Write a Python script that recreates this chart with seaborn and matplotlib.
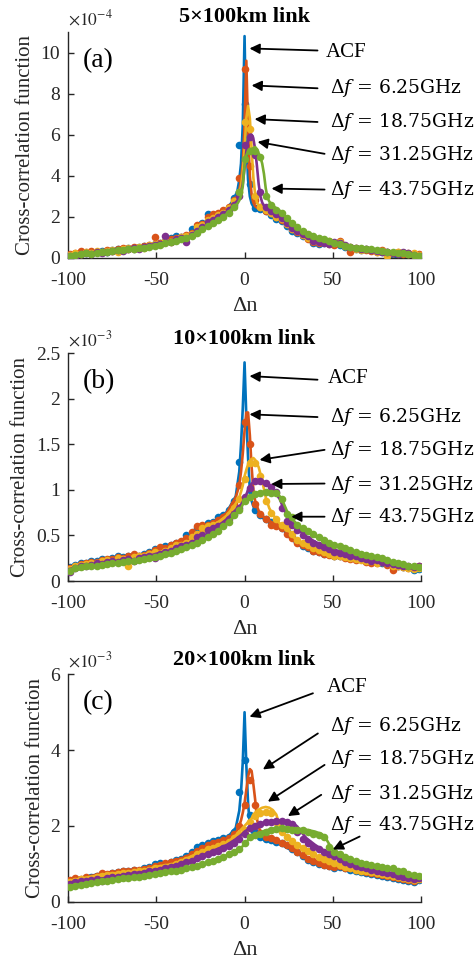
import numpy as np
import matplotlib
matplotlib.use("Agg")
import matplotlib.pyplot as plt
import seaborn as sns

# ---------------- data ----------------
series_labels = ["ACF", r"$\Delta f$ = 6.25GHz", r"$\Delta f$ = 18.75GHz",
                 r"$\Delta f$ = 31.25GHz", r"$\Delta f$ = 43.75GHz"]
colors = ["#0072BD", "#D95319", "#EDB120", "#7E2F8E", "#77AC30"]
panel_titles = ["5\u00d7100km link", "10\u00d7100km link", "20\u00d7100km link"]
panel_tags = ["(a)", "(b)", "(c)"]
exponents = [-4, -3, -3]
yticks_a = [0, 2, 4, 6, 8, 10]
yticks_b = [0, 0.5, 1, 1.5, 2, 2.5]
yticks_c = [0, 2, 4, 6]
ylabels_a = ["0", "2", "4", "6", "8", "10"]
ylabels_b = ["0", "0.5", "1", "1.5", "2", "2.5"]
ylabels_c = ["0", "2", "4", "6"]
xticks = [-100, -50, 0, 50, 100]
xticklabels = ["-100", "-50", "0", "50", "100"]

x_dots = list(range(-99, 100, 3))

# ---- panel (a), values in units of 1e-4 ----
xa_line = [-100, -80, -60, -50, -40, -30, -25, -20, -15, -10, -6, -4, -3, -2, -1, 0, 1, 2, 3, 4, 5, 6,
           7, 8, 9, 10, 11, 12, 13, 14, 16, 18, 20, 25, 30, 40, 50, 60, 70, 80, 90, 100]
a_line_0 = [0.12, 0.35, 0.55, 0.7, 0.95, 1.15, 1.45, 1.85, 2.1, 2.4, 2.85, 3.3, 3.8, 4.6, 6.5, 10.8, 5.8, 3.8, 3.0, 2.65, 2.5, 2.45,
            2.42, 2.4, 2.38, 2.35, 2.33, 2.3, 2.27, 2.22, 2.12, 2.0, 1.9, 1.6, 1.25, 0.8, 0.7, 0.5, 0.4, 0.3, 0.22, 0.12]
a_line_1 = [0.12, 0.35, 0.55, 0.7, 0.95, 1.12, 1.4, 1.8, 2.05, 2.35, 2.75, 3.05, 3.3, 3.8, 4.6, 6.5, 9.6, 6.2, 4.0, 3.1, 2.7, 2.52,
            2.45, 2.42, 2.4, 2.37, 2.34, 2.31, 2.28, 2.24, 2.14, 2.02, 1.92, 1.62, 1.27, 0.82, 0.7, 0.5, 0.4, 0.3, 0.22, 0.12]
a_line_2 = [0.12, 0.34, 0.54, 0.68, 0.93, 1.1, 1.35, 1.75, 2.0, 2.3, 2.7, 2.95, 3.1, 3.5, 4.2, 5.3, 6.8, 7.4, 6.8, 5.3, 3.9, 3.1,
            2.7, 2.55, 2.47, 2.42, 2.38, 2.35, 2.31, 2.27, 2.17, 2.05, 1.95, 1.65, 1.3, 0.84, 0.72, 0.52, 0.41, 0.31, 0.23, 0.13]
a_line_3 = [0.12, 0.33, 0.52, 0.66, 0.9, 1.05, 1.3, 1.7, 1.95, 2.25, 2.6, 2.8, 3.0, 3.2, 3.6, 4.4, 5.2, 5.7, 6.0, 6.0, 5.8, 5.3,
            4.5, 3.6, 3.0, 2.7, 2.55, 2.47, 2.42, 2.37, 2.25, 2.12, 2.0, 1.7, 1.35, 0.88, 0.74, 0.53, 0.42, 0.32, 0.23, 0.13]
a_line_4 = [0.1, 0.3, 0.5, 0.62, 0.85, 1.0, 1.25, 1.6, 1.85, 2.15, 2.5, 2.65, 2.8, 3.0, 3.5, 4.5, 5.0, 5.2, 5.3, 5.3, 5.35, 5.4,
            5.3, 5.1, 4.9, 4.6, 4.1, 3.4, 2.95, 2.75, 2.55, 2.42, 2.3, 1.85, 1.45, 0.95, 0.78, 0.55, 0.43, 0.33, 0.24, 0.13]

a_dots_0 = [0.15, 0.2, 0.18, 0.25, 0.3, 0.28, 0.35, 0.3, 0.4, 0.45, 0.42, 0.5, 0.45, 0.55, 0.6, 0.58, 0.7, 0.72, 0.85, 0.95,
            1.05, 1.0, 1.05, 1.4, 1.45, 1.7, 2.15, 2.0, 2.1, 2.3, 2.45, 2.9, 5.5, 7.5, 3.6, 2.45, 2.4, 2.3, 2.1, 1.9,
            1.8, 1.55, 1.3, 1.2, 1.05, 0.95, 0.75, 0.7, 0.72, 0.75, 0.7, 0.65, 0.55, 0.45, 0.45, 0.4, 0.42, 0.38, 0.35, 0.3,
            0.28, 0.05, 0.2, 0.15, 0.12, 0.1, 0.12]
a_dots_1 = [0.2, 0.25, 0.35, 0.3, 0.35, 0.3, 0.3, 0.4, 0.35, 0.45, 0.5, 0.45, 0.55, 0.5, 0.6, 0.65, 1.0, 0.75, 0.8, 0.9,
            0.95, 1.0, 1.1, 1.2, 1.6, 1.65, 2.0, 2.15, 2.2, 2.35, 2.5, 2.8, 3.9, 9.2, 4.5, 2.8, 2.5, 2.3, 2.2, 2.0,
            1.85, 1.65, 1.4, 1.25, 1.1, 0.9, 0.8, 0.75, 0.8, 0.7, 0.65, 0.85, 0.6, 0.3, 0.5, 0.45, 0.4, 0.35, 0.3, 0.38,
            0.3, 0.25, 0.3, 0.2, 0.25, 0.15, 0.2]
a_dots_2 = [0.15, 0.25, 0.2, 0.3, 0.25, 0.35, 0.3, 0.35, 0.4, 0.3, 0.45, 0.5, 0.45, 0.55, 0.5, 0.65, 0.7, 0.7, 0.85, 0.8,
            0.9, 1.0, 1.05, 1.15, 1.5, 1.6, 1.85, 1.95, 2.1, 2.2, 2.45, 2.75, 3.2, 6.6, 6.3, 3.0, 2.5, 2.35, 2.2, 2.0,
            1.9, 1.65, 1.4, 1.3, 1.1, 0.95, 0.85, 0.8, 0.78, 0.85, 0.75, 0.8, 0.6, 0.55, 0.45, 0.4, 0.45, 0.4, 0.3, 0.35,
            0.1, 0.25, 0.3, 0.25, 0.2, 0.25, 0.15]
a_dots_3 = [0.1, 0.0, 0.2, 0.25, 0.2, 0.3, 0.25, 0.3, 0.35, 0.4, 0.35, 0.45, 0.5, 0.45, 0.55, 0.6, 0.65, 0.7, 1.05, 0.8,
            0.9, 0.95, 0.8, 1.1, 1.3, 1.5, 1.75, 1.85, 2.0, 2.15, 2.35, 2.6, 3.0, 5.5, 5.9, 5.0, 3.2, 2.5, 2.3, 2.15,
            1.95, 1.7, 1.45, 1.3, 1.15, 1.05, 0.85, 0.8, 0.75, 0.7, 0.8, 0.75, 0.65, 0.55, 0.5, 0.45, 0.42, 0.4, 0.35, 0.3,
            0.3, 0.25, 0.2, 0.3, 0.25, 0.15, 0.1]
a_dots_4 = [0.1, 0.15, 0.2, 0.25, 0.2, 0.25, 0.3, 0.3, 0.35, 0.4, 0.4, 0.45, 0.45, 0.5, 0.5, 0.55, 0.6, 0.65, 0.75, 0.8,
            0.85, 0.9, 0.95, 1.05, 1.2, 1.4, 1.55, 1.7, 1.85, 2.0, 2.2, 2.5, 3.2, 4.8, 5.2, 5.2, 4.9, 3.0, 2.6, 2.35,
            2.2, 1.95, 1.7, 1.5, 1.3, 1.15, 1.05, 0.95, 0.9, 0.82, 0.75, 0.7, 0.6, 0.55, 0.5, 0.48, 0.45, 0.42, 0.4, 0.35,
            0.3, 0.28, 0.25, 0.22, 0.2, 0.15, 0.12]

# ---- panel (b), values in units of 1e-3 ----
xb_line = [-100, -80, -60, -50, -40, -30, -20, -10, -5, -3, -2, -1, 0, 1, 2, 3, 4, 5, 6, 8, 10, 12, 14, 16, 18, 20,
           22, 24, 26, 28, 30, 35, 40, 50, 60, 70, 80, 90, 100]
b_line_0 = [0.14, 0.2, 0.25, 0.33, 0.38, 0.48, 0.6, 0.76, 0.93, 1.2, 1.5, 1.9, 2.4, 1.8, 1.35, 1.0, 0.88, 0.82, 0.78, 0.74,
            0.7, 0.67, 0.65, 0.63, 0.61, 0.59, 0.57, 0.55, 0.5, 0.44, 0.4, 0.36, 0.33, 0.29, 0.25, 0.23, 0.2, 0.17, 0.14]
b_line_1 = [0.14, 0.2, 0.25, 0.33, 0.38, 0.48, 0.6, 0.75, 0.92, 1.05, 1.2, 1.4, 1.65, 1.85, 1.85, 1.6, 1.25, 1.0, 0.88, 0.77,
            0.72, 0.68, 0.66, 0.64, 0.62, 0.6, 0.58, 0.56, 0.51, 0.46, 0.41, 0.37, 0.34, 0.3, 0.26, 0.23, 0.2, 0.17, 0.14]
b_line_2 = [0.13, 0.19, 0.24, 0.31, 0.36, 0.45, 0.57, 0.72, 0.85, 0.92, 0.98, 1.05, 1.15, 1.22, 1.28, 1.32, 1.34, 1.35, 1.33,
            1.25, 1.1, 0.92, 0.8, 0.73, 0.68, 0.63, 0.6, 0.57, 0.53, 0.48, 0.43, 0.38, 0.35, 0.3, 0.26, 0.23, 0.2, 0.17, 0.14]
b_line_3 = [0.13, 0.19, 0.24, 0.3, 0.34, 0.42, 0.53, 0.68, 0.78, 0.82, 0.84, 0.87, 0.9, 0.95, 1.0, 1.03, 1.07, 1.08, 1.1,
            1.11, 1.1, 1.08, 1.04, 1.0, 0.95, 0.9, 0.8, 0.72, 0.66, 0.62, 0.57, 0.49, 0.43, 0.35, 0.29, 0.25, 0.21, 0.18, 0.15]
b_line_4 = [0.11, 0.17, 0.22, 0.24, 0.3, 0.38, 0.48, 0.63, 0.73, 0.77, 0.8, 0.84, 0.87, 0.89, 0.91, 0.93, 0.94, 0.95, 0.96,
            0.97, 0.98, 0.98, 0.98, 0.97, 0.96, 0.93, 0.86, 0.77, 0.71, 0.66, 0.62, 0.55, 0.49, 0.4, 0.34, 0.28, 0.23, 0.19, 0.15]

b_dots_0 = [0.15, 0.18, 0.2, 0.2, 0.22, 0.22, 0.24, 0.22, 0.25, 0.27, 0.26, 0.28, 0.25, 0.27, 0.3, 0.32, 0.35, 0.35, 0.38, 0.4,
            0.42, 0.43, 0.5, 0.48, 0.58, 0.6, 0.64, 0.65, 0.7, 0.72, 0.78, 0.88, 1.31, 1.72, 1.0, 0.78, 0.72, 0.68, 0.65, 0.62,
            0.58, 0.55, 0.48, 0.43, 0.38, 0.36, 0.33, 0.32, 0.3, 0.3, 0.28, 0.28, 0.26, 0.25, 0.24, 0.25, 0.22, 0.22, 0.21, 0.2,
            0.2, 0.17, 0.16, 0.15, 0.15, 0.12, 0.13]
b_dots_1 = [0.14, 0.17, 0.19, 0.2, 0.21, 0.21, 0.23, 0.24, 0.24, 0.26, 0.25, 0.27, 0.3, 0.28, 0.29, 0.31, 0.34, 0.37, 0.36, 0.4,
            0.42, 0.44, 0.47, 0.54, 0.6, 0.62, 0.62, 0.64, 0.67, 0.7, 0.75, 0.85, 1.05, 1.75, 1.5, 0.85, 0.74, 0.68, 0.62, 0.6,
            0.58, 0.52, 0.47, 0.42, 0.4, 0.37, 0.33, 0.32, 0.3, 0.29, 0.27, 0.28, 0.25, 0.24, 0.23, 0.24, 0.21, 0.2, 0.2, 0.21,
            0.18, 0.12, 0.17, 0.15, 0.14, 0.15, 0.16]
b_dots_2 = [0.13, 0.16, 0.18, 0.19, 0.2, 0.2, 0.22, 0.23, 0.22, 0.25, 0.24, 0.16, 0.26, 0.27, 0.28, 0.3, 0.32, 0.3, 0.33, 0.36,
            0.39, 0.4, 0.42, 0.48, 0.52, 0.58, 0.6, 0.62, 0.63, 0.66, 0.72, 0.8, 0.9, 1.12, 1.3, 1.3, 1.15, 0.88, 0.75, 0.68,
            0.62, 0.58, 0.52, 0.45, 0.42, 0.4, 0.36, 0.34, 0.32, 0.3, 0.28, 0.27, 0.26, 0.25, 0.24, 0.23, 0.22, 0.22, 0.2, 0.21,
            0.2, 0.17, 0.16, 0.15, 0.14, 0.13, 0.14]
b_dots_3 = [0.1, 0.14, 0.16, 0.17, 0.18, 0.2, 0.19, 0.21, 0.22, 0.21, 0.23, 0.24, 0.22, 0.25, 0.26, 0.27, 0.25, 0.3, 0.32, 0.33,
            0.36, 0.38, 0.4, 0.42, 0.48, 0.5, 0.56, 0.58, 0.6, 0.62, 0.68, 0.74, 0.8, 0.92, 1.02, 1.1, 1.1, 1.08, 1.03, 0.98,
            0.8, 0.66, 0.62, 0.56, 0.5, 0.46, 0.42, 0.4, 0.37, 0.35, 0.32, 0.31, 0.3, 0.28, 0.27, 0.25, 0.24, 0.22, 0.23, 0.21,
            0.2, 0.19, 0.18, 0.17, 0.16, 0.15, 0.17]
b_dots_4 = [0.11, 0.14, 0.15, 0.16, 0.17, 0.17, 0.18, 0.19, 0.2, 0.2, 0.21, 0.22, 0.22, 0.23, 0.24, 0.25, 0.26, 0.28, 0.3, 0.31,
            0.33, 0.35, 0.37, 0.39, 0.42, 0.45, 0.48, 0.52, 0.55, 0.6, 0.65, 0.72, 0.78, 0.88, 0.92, 0.95, 0.97, 0.98, 0.97, 0.97,
            0.9, 0.74, 0.7, 0.62, 0.58, 0.55, 0.52, 0.48, 0.45, 0.42, 0.4, 0.38, 0.36, 0.34, 0.32, 0.3, 0.29, 0.28, 0.26, 0.25,
            0.23, 0.21, 0.2, 0.19, 0.17, 0.16, 0.15]

# ---- panel (c), values in units of 1e-3 ----
xc_line = [-100, -80, -60, -50, -40, -30, -20, -10, -5, -3, -2, -1, 0, 1, 2, 3, 4, 5, 6, 7, 8, 10, 12, 14, 16, 18, 20,
           22, 25, 28, 30, 32, 35, 40, 44, 46, 48, 50, 55, 60, 70, 80, 90, 100]
c_line_0 = [0.57, 0.75, 0.84, 0.97, 1.06, 1.28, 1.54, 1.68, 1.95, 2.4, 2.9, 3.7, 5.0, 3.6, 2.6, 2.0, 1.85, 1.78, 1.74, 1.72,
            1.7, 1.66, 1.63, 1.6, 1.57, 1.54, 1.52, 1.48, 1.4, 1.32, 1.27, 1.22, 1.15, 1.05, 0.98, 0.95, 0.93, 0.91, 0.87, 0.84,
            0.75, 0.66, 0.58, 0.57]
c_line_1 = [0.57, 0.74, 0.83, 0.95, 1.05, 1.26, 1.52, 1.62, 1.8, 2.0, 2.15, 2.35, 2.6, 2.95, 3.3, 3.5, 3.45, 3.1, 2.7, 2.2,
            1.95, 1.8, 1.72, 1.67, 1.62, 1.58, 1.55, 1.5, 1.43, 1.35, 1.3, 1.25, 1.18, 1.08, 1.0, 0.97, 0.95, 0.93, 0.88, 0.85,
            0.76, 0.67, 0.59, 0.58]
c_line_2 = [0.55, 0.72, 0.8, 0.92, 1.0, 1.2, 1.42, 1.55, 1.75, 1.85, 1.9, 1.95, 2.0, 2.05, 2.1, 2.15, 2.2, 2.3, 2.35, 2.4,
            2.43, 2.48, 2.5, 2.48, 2.42, 2.3, 2.0, 1.8, 1.65, 1.55, 1.5, 1.45, 1.38, 1.22, 1.12, 1.08, 1.04, 1.0, 0.93, 0.88,
            0.78, 0.7, 0.62, 0.6]
c_line_3 = [0.5, 0.62, 0.76, 0.85, 0.95, 1.1, 1.3, 1.5, 1.65, 1.72, 1.76, 1.8, 1.85, 1.88, 1.92, 1.95, 1.97, 2.0, 2.02, 2.04,
            2.05, 2.08, 2.1, 2.12, 2.13, 2.14, 2.15, 2.14, 2.12, 2.06, 1.98, 1.85, 1.68, 1.5, 1.38, 1.33, 1.28, 1.22, 1.1, 1.0,
            0.86, 0.76, 0.67, 0.6]
c_line_4 = [0.42, 0.53, 0.62, 0.72, 0.8, 0.92, 1.06, 1.23, 1.33, 1.38, 1.42, 1.47, 1.52, 1.58, 1.63, 1.67, 1.7, 1.73, 1.76,
            1.78, 1.8, 1.85, 1.88, 1.9, 1.92, 1.94, 1.95, 1.95, 1.95, 1.94, 1.93, 1.92, 1.9, 1.85, 1.78, 1.68, 1.52, 1.4, 1.23,
            1.12, 0.98, 0.88, 0.76, 0.66]

c_dots_0 = [0.55, 0.6, 0.58, 0.62, 0.65, 0.68, 0.72, 0.7, 0.75, 0.78, 0.8, 0.8, 0.85, 0.82, 0.9, 0.92, 1.0, 1.02, 1.0, 1.05,
            1.1, 1.12, 1.2, 1.3, 1.45, 1.5, 1.55, 1.6, 1.62, 1.68, 1.72, 1.85, 2.9, 3.75, 2.3, 1.85, 1.7, 1.65, 1.62, 1.58,
            1.55, 1.5, 1.4, 1.3, 1.2, 1.1, 1.05, 1.0, 0.98, 0.95, 0.9, 0.92, 0.88, 0.85, 0.8, 0.78, 0.75, 0.72, 0.7, 0.68,
            0.65, 0.62, 0.6, 0.58, 0.55, 0.52, 0.57]
c_dots_1 = [0.58, 0.62, 0.6, 0.65, 0.63, 0.68, 0.75, 0.72, 0.76, 0.78, 0.8, 0.82, 0.84, 0.85, 0.86, 0.9, 0.95, 0.98, 1.02, 1.05,
            1.08, 1.1, 1.15, 1.25, 1.35, 1.42, 1.5, 1.55, 1.58, 1.62, 1.68, 1.78, 2.0, 2.55, 3.2, 2.55, 1.82, 1.72, 1.68, 1.62,
            1.56, 1.5, 1.42, 1.32, 1.22, 1.12, 1.08, 1.02, 0.98, 0.95, 0.92, 0.95, 0.9, 0.88, 0.85, 0.82, 0.78, 0.75, 0.72, 0.7,
            0.68, 0.64, 0.62, 0.6, 0.58, 0.55, 0.6]
c_dots_2 = [0.52, 0.55, 0.6, 0.58, 0.6, 0.65, 0.68, 0.7, 0.7, 0.72, 0.75, 0.76, 0.78, 0.8, 0.82, 0.85, 0.88, 0.9, 0.92, 0.95,
            1.0, 1.05, 1.1, 1.15, 1.25, 1.3, 1.38, 1.42, 1.48, 1.52, 1.58, 1.68, 1.78, 1.9, 2.1, 2.25, 2.35, 2.38, 2.35, 2.1,
            1.85, 1.7, 1.6, 1.5, 1.42, 1.35, 1.25, 1.18, 1.12, 1.08, 1.02, 0.98, 0.92, 0.9, 0.85, 0.82, 0.8, 0.78, 0.75, 0.72,
            0.7, 0.68, 0.65, 0.62, 0.6, 0.58, 0.6]
c_dots_3 = [0.48, 0.52, 0.55, 0.56, 0.58, 0.6, 0.55, 0.62, 0.65, 0.66, 0.68, 0.7, 0.72, 0.74, 0.76, 0.8, 0.82, 0.85, 0.88, 0.92,
            0.95, 1.0, 1.05, 1.08, 1.15, 1.2, 1.25, 1.3, 1.35, 1.42, 1.48, 1.55, 1.65, 1.8, 1.95, 2.0, 2.05, 2.1, 2.1, 2.12,
            2.12, 2.1, 2.05, 1.85, 1.65, 1.55, 1.45, 1.38, 1.3, 1.25, 1.2, 1.12, 1.05, 1.0, 0.95, 0.92, 0.88, 0.85, 0.82, 0.78,
            0.75, 0.72, 0.68, 0.65, 0.62, 0.6, 0.62]
c_dots_4 = [0.4, 0.42, 0.45, 0.48, 0.5, 0.52, 0.55, 0.56, 0.58, 0.6, 0.62, 0.62, 0.64, 0.66, 0.68, 0.7, 0.72, 0.75, 0.78, 0.8,
            0.82, 0.85, 0.88, 0.92, 0.95, 1.0, 1.05, 1.08, 1.12, 1.18, 1.25, 1.3, 1.4, 1.55, 1.72, 1.75, 1.8, 1.85, 1.9, 1.92,
            1.95, 1.92, 1.9, 1.88, 1.88, 1.85, 1.8, 1.75, 1.7, 1.45, 1.3, 1.25, 1.18, 1.12, 1.08, 1.02, 1.0, 0.98, 0.95, 0.92,
            0.9, 0.88, 0.82, 0.8, 0.72, 0.7, 0.68]

# ---------------- styling ----------------
sns.set_style("white")
plt.rcParams["font.family"] = ["Liberation Serif", "DejaVu Serif"]
plt.rcParams["mathtext.fontset"] = "stix"
INK = "#262626"

panels = [
    dict(xl=xa_line, lines=[a_line_0, a_line_1, a_line_2, a_line_3, a_line_4],
         dots=[a_dots_0, a_dots_1, a_dots_2, a_dots_3, a_dots_4],
         ylim=(0, 11), yt=yticks_a, ytl=ylabels_a,
         rect=[0.1432, 0.7324, 0.7390, 0.2344]),
    dict(xl=xb_line, lines=[b_line_0, b_line_1, b_line_2, b_line_3, b_line_4],
         dots=[b_dots_0, b_dots_1, b_dots_2, b_dots_3, b_dots_4],
         ylim=(0, 2.5), yt=yticks_b, ytl=ylabels_b,
         rect=[0.1432, 0.3973, 0.7390, 0.2362]),
    dict(xl=xc_line, lines=[c_line_0, c_line_1, c_line_2, c_line_3, c_line_4],
         dots=[c_dots_0, c_dots_1, c_dots_2, c_dots_3, c_dots_4],
         ylim=(0, 6), yt=yticks_c, ytl=ylabels_c,
         rect=[0.1432, 0.0646, 0.7390, 0.2359]),
]

# annotation layout: (arrow head, arrow tail, text anchor)
annots = [
    [((2.8, 10.2), (41.4, 10.1), (46.0, 10.0)),
     ((4.0, 8.4), (41.4, 8.26), (48.2, 8.26)),
     ((5.7, 6.76), (41.4, 6.62), (48.2, 6.62)),
     ((7.4, 5.65), (45.4, 5.07), (48.2, 5.02)),
     ((15.3, 3.38), (45.4, 3.33), (48.2, 3.33))],
    [((2.8, 2.25), (41.4, 2.21), (47.0, 2.22)),
     ((2.8, 1.83), (41.4, 1.80), (48.2, 1.80)),
     ((8.5, 1.33), (45.4, 1.44), (48.2, 1.44)),
     ((15.1, 1.065), (45.4, 1.07), (48.2, 1.05)),
     ((26.5, 0.706), (45.4, 0.706), (48.2, 0.70))],
    [((2.8, 4.88), (38.8, 5.50), (46.9, 5.65)),
     ((10.4, 3.49), (41.6, 4.44), (48.2, 4.64)),
     ((13.2, 2.64), (45.4, 3.61), (48.2, 3.76)),
     ((24.6, 2.26), (43.5, 2.82), (48.2, 2.84)),
     ((50.1, 1.38), (65.3, 1.72), (48.2, 2.02))],
]

fig = plt.figure(figsize=(4.77, 9.64), dpi=100)

for p, (cfg, title, tag, ex, ann) in enumerate(zip(panels, panel_titles, panel_tags, exponents, annots)):
    ax = fig.add_axes(cfg["rect"])
    for k in range(5):
        assert len(cfg["lines"][k]) == len(cfg["xl"])
        assert len(cfg["dots"][k]) == len(x_dots)
        sns.lineplot(x=cfg["xl"], y=cfg["lines"][k], ax=ax, color=colors[k], lw=1.9,
                     estimator=None, sort=False, legend=False, zorder=2 + k)
        sns.scatterplot(x=x_dots, y=cfg["dots"][k], ax=ax, color=colors[k], s=30,
                        linewidth=0, legend=False, zorder=2.5 + k)
    ax.set_xlim(-100, 100)
    ax.set_ylim(*cfg["ylim"])
    ax.set_xticks(xticks)
    ax.set_xticklabels(xticklabels)
    ax.set_yticks(cfg["yt"])
    ax.set_yticklabels(cfg["ytl"])
    for s in ["top", "right"]:
        ax.spines[s].set_visible(False)
    for s in ["left", "bottom"]:
        ax.spines[s].set_color(INK)
        ax.spines[s].set_linewidth(1.0)
    ax.tick_params(direction="in", length=4, width=1.0, colors=INK, labelsize=14,
                   bottom=True, left=True, top=False, right=False)
    ax.tick_params(axis="x", pad=10)
    ax.tick_params(axis="y", pad=6)
    ax.set_xlabel("\u0394n", fontsize=16, color=INK, labelpad=6)
    ax.set_ylabel("Cross-correlation function", fontsize=15, color=INK, labelpad=4)
    ax.set_title(title, fontsize=16, fontweight="bold", pad=7, color="black")
    ax.text(0.0, 1.015, r"$\times10^{%d}$" % ex, transform=ax.transAxes, fontsize=12.5,
            ha="left", va="bottom", color=INK)
    ax.text(0.04, 0.875, tag, transform=ax.transAxes, fontsize=20, ha="left", va="center",
            color="black")
    for k, (head, tail, tpos) in enumerate(ann):
        ax.annotate("", xy=head, xytext=tail,
                    arrowprops=dict(arrowstyle="-|>", color="black", lw=1.3,
                                    mutation_scale=15, shrinkA=0, shrinkB=0),
                    annotation_clip=False, zorder=20)
        if k == 0:
            ax.text(tpos[0], tpos[1], series_labels[k], fontsize=15, ha="left", va="center",
                    color="black", clip_on=False)
        else:
            ax.text(tpos[0], tpos[1], series_labels[k], fontsize=13.5, ha="left", va="center",
                    color="black", family="DejaVu Serif", math_fontfamily="dejavuserif",
                    clip_on=False)

fig.savefig("out.png", dpi=100)
